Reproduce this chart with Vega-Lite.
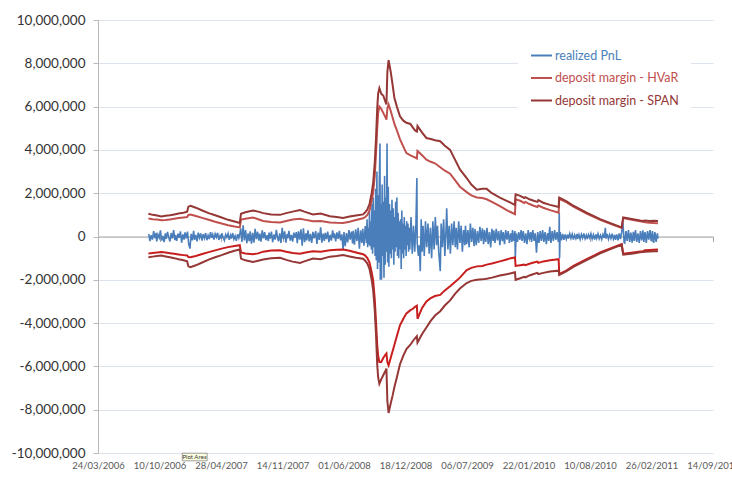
{
"$schema": "https://vega.github.io/schema/vega-lite/v6.json",
"width": 615, "height": 433,
"autosize": {"type": "none"},
"padding": {"left": 98, "top": 20, "right": 19, "bottom": 30},
"background": "white",
"config": {"view": {"stroke": null}, "font": "Lato"},
"datasets": {
"pnl": [
{"d":"2006-09-05","v":120000},{"d":"2006-09-09","v":-210000},{"d":"2006-09-13","v":60000},{"d":"2006-09-17","v":-140000},{"d":"2006-09-21","v":250000},{"d":"2006-09-25","v":-80000},{"d":"2006-09-29","v":170000},
{"d":"2006-10-01","v":-230000},{"d":"2006-10-05","v":90000},{"d":"2006-10-09","v":-60000},{"d":"2006-10-13","v":280000},{"d":"2006-10-17","v":-190000},{"d":"2006-10-21","v":30000},{"d":"2006-10-25","v":-260000},{"d":"2006-10-29","v":140000},
{"d":"2006-11-01","v":-110000},{"d":"2006-11-05","v":210000},{"d":"2006-11-09","v":-40000},{"d":"2006-11-13","v":-230000},{"d":"2006-11-17","v":160000},{"d":"2006-11-21","v":-90000},{"d":"2006-11-25","v":300000},{"d":"2006-11-29","v":-170000},
{"d":"2006-12-01","v":70000},{"d":"2006-12-05","v":-200000},{"d":"2006-12-09","v":130000},{"d":"2006-12-13","v":-60000},{"d":"2006-12-17","v":240000},{"d":"2006-12-21","v":-280000},{"d":"2006-12-25","v":100000},{"d":"2006-12-29","v":-140000},
{"d":"2007-01-01","v":190000},{"d":"2007-01-05","v":-90000},{"d":"2007-01-09","v":230000},{"d":"2007-01-13","v":-350000},{"d":"2007-01-17","v":-560000},{"d":"2007-01-21","v":120000},{"d":"2007-01-25","v":-180000},{"d":"2007-01-29","v":260000},
{"d":"2007-02-01","v":-150000},{"d":"2007-02-05","v":70000},{"d":"2007-02-09","v":-220000},{"d":"2007-02-13","v":180000},{"d":"2007-02-17","v":-60000},{"d":"2007-02-21","v":140000},{"d":"2007-02-25","v":-190000},
{"d":"2007-03-01","v":110000},{"d":"2007-03-05","v":-80000},{"d":"2007-03-09","v":160000},{"d":"2007-03-13","v":-170000},{"d":"2007-03-17","v":50000},{"d":"2007-03-21","v":-120000},{"d":"2007-03-25","v":200000},{"d":"2007-03-29","v":-60000},
{"d":"2007-04-01","v":90000},{"d":"2007-04-05","v":-140000},{"d":"2007-04-09","v":120000},{"d":"2007-04-13","v":-30000},{"d":"2007-04-17","v":170000},{"d":"2007-04-21","v":-160000},{"d":"2007-04-25","v":40000},{"d":"2007-04-29","v":-100000},
{"d":"2007-05-01","v":150000},{"d":"2007-05-05","v":-60000},{"d":"2007-05-09","v":-180000},{"d":"2007-05-13","v":90000},{"d":"2007-05-17","v":-40000},{"d":"2007-05-21","v":130000},{"d":"2007-05-25","v":-150000},{"d":"2007-05-29","v":60000},
{"d":"2007-06-01","v":-90000},{"d":"2007-06-05","v":160000},{"d":"2007-06-09","v":-120000},{"d":"2007-06-13","v":30000},{"d":"2007-06-17","v":-200000},{"d":"2007-06-21","v":110000},{"d":"2007-06-25","v":-70000},{"d":"2007-06-29","v":180000},
{"d":"2007-07-01","v":380000},{"d":"2007-07-05","v":-250000},{"d":"2007-07-09","v":520000},{"d":"2007-07-13","v":-180000},{"d":"2007-07-17","v":300000},{"d":"2007-07-21","v":-310000},{"d":"2007-07-25","v":150000},{"d":"2007-07-29","v":-220000},
{"d":"2007-08-01","v":240000},{"d":"2007-08-05","v":-330000},{"d":"2007-08-09","v":170000},{"d":"2007-08-13","v":-280000},{"d":"2007-08-17","v":350000},{"d":"2007-08-21","v":-120000},{"d":"2007-08-25","v":220000},{"d":"2007-08-29","v":-190000},
{"d":"2007-09-01","v":130000},{"d":"2007-09-05","v":-240000},{"d":"2007-09-09","v":280000},{"d":"2007-09-13","v":-90000},{"d":"2007-09-17","v":200000},{"d":"2007-09-21","v":-170000},{"d":"2007-09-25","v":60000},{"d":"2007-09-29","v":-210000},
{"d":"2007-10-01","v":180000},{"d":"2007-10-05","v":-100000},{"d":"2007-10-09","v":230000},{"d":"2007-10-13","v":-260000},{"d":"2007-10-17","v":90000},{"d":"2007-10-21","v":-140000},{"d":"2007-10-25","v":310000},{"d":"2007-10-29","v":-60000},
{"d":"2007-11-01","v":-220000},{"d":"2007-11-05","v":150000},{"d":"2007-11-09","v":-300000},{"d":"2007-11-13","v":400000},{"d":"2007-11-17","v":-120000},{"d":"2007-11-21","v":240000},{"d":"2007-11-25","v":-280000},{"d":"2007-11-29","v":110000},
{"d":"2007-12-01","v":-90000},{"d":"2007-12-05","v":260000},{"d":"2007-12-09","v":-190000},{"d":"2007-12-13","v":70000},{"d":"2007-12-17","v":-240000},{"d":"2007-12-21","v":180000},{"d":"2007-12-25","v":-50000},{"d":"2007-12-29","v":200000},
{"d":"2008-01-01","v":-310000},{"d":"2008-01-05","v":240000},{"d":"2008-01-09","v":-150000},{"d":"2008-01-13","v":330000},{"d":"2008-01-17","v":-420000},{"d":"2008-01-21","v":380000},{"d":"2008-01-25","v":-260000},{"d":"2008-01-29","v":150000},
{"d":"2008-02-01","v":-180000},{"d":"2008-02-05","v":290000},{"d":"2008-02-09","v":-230000},{"d":"2008-02-13","v":120000},{"d":"2008-02-17","v":-300000},{"d":"2008-02-21","v":210000},{"d":"2008-02-25","v":-90000},
{"d":"2008-03-01","v":250000},{"d":"2008-03-05","v":-340000},{"d":"2008-03-09","v":180000},{"d":"2008-03-13","v":-160000},{"d":"2008-03-17","v":420000},{"d":"2008-03-21","v":-280000},{"d":"2008-03-25","v":130000},{"d":"2008-03-29","v":-200000},
{"d":"2008-04-01","v":170000},{"d":"2008-04-05","v":-120000},{"d":"2008-04-09","v":230000},{"d":"2008-04-13","v":-260000},{"d":"2008-04-17","v":80000},{"d":"2008-04-21","v":-190000},{"d":"2008-04-25","v":280000},{"d":"2008-04-29","v":-70000},
{"d":"2008-05-01","v":140000},{"d":"2008-05-05","v":-230000},{"d":"2008-05-09","v":190000},{"d":"2008-05-13","v":-110000},{"d":"2008-05-17","v":260000},{"d":"2008-05-21","v":-180000},{"d":"2008-05-25","v":100000},{"d":"2008-05-29","v":-600000},
{"d":"2008-06-01","v":210000},{"d":"2008-06-05","v":-450000},{"d":"2008-06-09","v":160000},{"d":"2008-06-13","v":-270000},{"d":"2008-06-17","v":300000},{"d":"2008-06-21","v":-140000},{"d":"2008-06-25","v":230000},{"d":"2008-06-29","v":-320000},
{"d":"2008-07-01","v":260000},{"d":"2008-07-05","v":-380000},{"d":"2008-07-09","v":330000},{"d":"2008-07-13","v":-210000},{"d":"2008-07-17","v":400000},{"d":"2008-07-21","v":-560000},{"d":"2008-07-25","v":280000},{"d":"2008-07-29","v":-300000},
{"d":"2008-08-01","v":350000},{"d":"2008-08-05","v":-420000},{"d":"2008-08-09","v":480000},{"d":"2008-08-13","v":-300000},{"d":"2008-08-15","v":800000},{"d":"2008-08-17","v":-500000},{"d":"2008-08-19","v":400000},{"d":"2008-08-21","v":-380000},{"d":"2008-08-23","v":1200000},{"d":"2008-08-25","v":-450000},{"d":"2008-08-27","v":700000},{"d":"2008-08-29","v":-600000},{"d":"2008-08-31","v":1500000},
{"d":"2008-09-02","v":-800000},{"d":"2008-09-04","v":1800000},{"d":"2008-09-06","v":-500000},{"d":"2008-09-08","v":1200000},{"d":"2008-09-10","v":-900000},{"d":"2008-09-12","v":2200000},{"d":"2008-09-14","v":-1100000},{"d":"2008-09-16","v":3000000},{"d":"2008-09-18","v":-1500000},{"d":"2008-09-20","v":1900000},{"d":"2008-09-22","v":-1200000},{"d":"2008-09-24","v":2600000},{"d":"2008-09-26","v":4300000},{"d":"2008-09-27","v":-2000000},{"d":"2008-09-29","v":1500000},{"d":"2008-09-30","v":-1800000},
{"d":"2008-10-01","v":-2000000},{"d":"2008-10-03","v":2400000},{"d":"2008-10-05","v":-900000},{"d":"2008-10-07","v":1600000},{"d":"2008-10-09","v":-1900000},{"d":"2008-10-11","v":2800000},{"d":"2008-10-13","v":-1300000},{"d":"2008-10-15","v":1800000},{"d":"2008-10-17","v":-700000},{"d":"2008-10-19","v":4300000},{"d":"2008-10-21","v":-1200000},{"d":"2008-10-23","v":2300000},{"d":"2008-10-25","v":-1400000},{"d":"2008-10-27","v":1500000},{"d":"2008-10-29","v":-800000},{"d":"2008-10-31","v":1200000},
{"d":"2008-11-02","v":-1000000},{"d":"2008-11-04","v":1700000},{"d":"2008-11-06","v":-600000},{"d":"2008-11-08","v":1300000},{"d":"2008-11-10","v":-1300000},{"d":"2008-11-12","v":900000},{"d":"2008-11-14","v":-700000},{"d":"2008-11-16","v":1600000},{"d":"2008-11-18","v":-500000},{"d":"2008-11-20","v":1800000},{"d":"2008-11-22","v":-900000},{"d":"2008-11-24","v":1100000},{"d":"2008-11-26","v":-1000000},{"d":"2008-11-28","v":700000},{"d":"2008-11-30","v":-600000},
{"d":"2008-12-02","v":800000},{"d":"2008-12-04","v":-1500000},{"d":"2008-12-06","v":1200000},{"d":"2008-12-08","v":-800000},{"d":"2008-12-10","v":600000},{"d":"2008-12-12","v":-1000000},{"d":"2008-12-14","v":900000},{"d":"2008-12-16","v":-600000},{"d":"2008-12-18","v":500000},{"d":"2008-12-20","v":-900000},{"d":"2008-12-22","v":700000},{"d":"2008-12-24","v":-400000},{"d":"2008-12-26","v":600000},{"d":"2008-12-28","v":-700000},{"d":"2008-12-30","v":400000},
{"d":"2009-01-01","v":-600000},{"d":"2009-01-05","v":900000},{"d":"2009-01-09","v":-800000},{"d":"2009-01-13","v":500000},{"d":"2009-01-17","v":-700000},{"d":"2009-01-21","v":600000},{"d":"2009-01-24","v":2700000},{"d":"2009-01-25","v":-300000},{"d":"2009-01-29","v":-900000},
{"d":"2009-02-01","v":-400000},{"d":"2009-02-04","v":-1600000},{"d":"2009-02-07","v":800000},{"d":"2009-02-10","v":-700000},{"d":"2009-02-13","v":500000},{"d":"2009-02-17","v":-900000},{"d":"2009-02-21","v":700000},{"d":"2009-02-25","v":-500000},
{"d":"2009-03-01","v":600000},{"d":"2009-03-05","v":-800000},{"d":"2009-03-09","v":400000},{"d":"2009-03-13","v":-1000000},{"d":"2009-03-17","v":700000},{"d":"2009-03-21","v":-600000},{"d":"2009-03-25","v":900000},{"d":"2009-03-29","v":-400000},
{"d":"2009-04-01","v":500000},{"d":"2009-04-05","v":-700000},{"d":"2009-04-10","v":-1600000},{"d":"2009-04-13","v":600000},{"d":"2009-04-17","v":-500000},{"d":"2009-04-21","v":800000},{"d":"2009-04-25","v":-900000},{"d":"2009-04-29","v":400000},
{"d":"2009-05-01","v":1300000},{"d":"2009-05-05","v":-600000},{"d":"2009-05-09","v":500000},{"d":"2009-05-13","v":-800000},{"d":"2009-05-17","v":600000},{"d":"2009-05-21","v":-400000},{"d":"2009-05-25","v":700000},{"d":"2009-05-29","v":-500000},
{"d":"2009-06-01","v":400000},{"d":"2009-06-05","v":-600000},{"d":"2009-06-09","v":700000},{"d":"2009-06-13","v":-300000},{"d":"2009-06-17","v":500000},{"d":"2009-06-21","v":-700000},{"d":"2009-06-25","v":300000},{"d":"2009-06-29","v":-400000},
{"d":"2009-07-01","v":500000},{"d":"2009-07-05","v":-350000},{"d":"2009-07-09","v":300000},{"d":"2009-07-13","v":-500000},{"d":"2009-07-17","v":600000},{"d":"2009-07-21","v":-250000},{"d":"2009-07-25","v":400000},{"d":"2009-07-29","v":-450000},
{"d":"2009-08-01","v":350000},{"d":"2009-08-05","v":-400000},{"d":"2009-08-09","v":250000},{"d":"2009-08-13","v":-300000},{"d":"2009-08-17","v":450000},{"d":"2009-08-21","v":-200000},{"d":"2009-08-25","v":380000},{"d":"2009-08-29","v":-350000},
{"d":"2009-09-01","v":300000},{"d":"2009-09-05","v":-250000},{"d":"2009-09-09","v":400000},{"d":"2009-09-13","v":-350000},{"d":"2009-09-17","v":200000},{"d":"2009-09-21","v":-500000},{"d":"2009-09-25","v":350000},{"d":"2009-09-29","v":-200000},
{"d":"2009-10-01","v":280000},{"d":"2009-10-05","v":-300000},{"d":"2009-10-09","v":350000},{"d":"2009-10-13","v":-180000},{"d":"2009-10-17","v":250000},{"d":"2009-10-21","v":-400000},{"d":"2009-10-25","v":300000},{"d":"2009-10-29","v":-220000},
{"d":"2009-11-01","v":200000},{"d":"2009-11-05","v":-350000},{"d":"2009-11-09","v":300000},{"d":"2009-11-13","v":-150000},{"d":"2009-11-17","v":250000},{"d":"2009-11-21","v":-300000},{"d":"2009-11-25","v":150000},{"d":"2009-11-29","v":-250000},
{"d":"2009-12-01","v":300000},{"d":"2009-12-05","v":-200000},{"d":"2009-12-09","v":250000},{"d":"2009-12-10","v":-1000000},{"d":"2009-12-13","v":150000},{"d":"2009-12-17","v":-250000},{"d":"2009-12-21","v":200000},{"d":"2009-12-25","v":-150000},{"d":"2009-12-29","v":300000},
{"d":"2010-01-01","v":-200000},{"d":"2010-01-05","v":250000},{"d":"2010-01-09","v":-300000},{"d":"2010-01-13","v":150000},{"d":"2010-01-17","v":-350000},{"d":"2010-01-21","v":300000},{"d":"2010-01-25","v":-150000},{"d":"2010-01-29","v":200000},
{"d":"2010-02-01","v":-250000},{"d":"2010-02-05","v":300000},{"d":"2010-02-09","v":-200000},{"d":"2010-02-13","v":150000},{"d":"2010-02-17","v":-750000},{"d":"2010-02-21","v":200000},{"d":"2010-02-25","v":-300000},
{"d":"2010-03-01","v":250000},{"d":"2010-03-05","v":-200000},{"d":"2010-03-09","v":300000},{"d":"2010-03-13","v":-250000},{"d":"2010-03-17","v":200000},{"d":"2010-03-21","v":-350000},{"d":"2010-03-25","v":150000},{"d":"2010-03-29","v":-200000},
{"d":"2010-04-01","v":450000},{"d":"2010-04-05","v":-300000},{"d":"2010-04-09","v":250000},{"d":"2010-04-13","v":-200000},{"d":"2010-04-17","v":300000},{"d":"2010-04-21","v":-150000},{"d":"2010-04-25","v":200000},{"d":"2010-04-29","v":-250000},
{"d":"2010-05-01","v":-150000},{"d":"2010-05-02","v":1100000},{"d":"2010-05-03","v":-1000000},{"d":"2010-05-05","v":200000},{"d":"2010-05-09","v":-180000},{"d":"2010-05-13","v":120000},{"d":"2010-05-17","v":-150000},{"d":"2010-05-21","v":100000},{"d":"2010-05-25","v":-120000},{"d":"2010-05-29","v":90000},
{"d":"2010-06-01","v":-100000},{"d":"2010-06-05","v":130000},{"d":"2010-06-09","v":-80000},{"d":"2010-06-13","v":110000},{"d":"2010-06-17","v":-140000},{"d":"2010-06-21","v":70000},{"d":"2010-06-25","v":-90000},{"d":"2010-06-29","v":120000},
{"d":"2010-07-01","v":-110000},{"d":"2010-07-05","v":80000},{"d":"2010-07-09","v":-130000},{"d":"2010-07-13","v":100000},{"d":"2010-07-17","v":-70000},{"d":"2010-07-21","v":140000},{"d":"2010-07-25","v":-100000},{"d":"2010-07-29","v":60000},
{"d":"2010-08-01","v":-120000},{"d":"2010-08-05","v":90000},{"d":"2010-08-09","v":-60000},{"d":"2010-08-13","v":130000},{"d":"2010-08-17","v":-110000},{"d":"2010-08-21","v":80000},{"d":"2010-08-25","v":-140000},{"d":"2010-08-29","v":100000},
{"d":"2010-09-01","v":-80000},{"d":"2010-09-05","v":120000},{"d":"2010-09-09","v":-100000},{"d":"2010-09-13","v":60000},{"d":"2010-09-17","v":-130000},{"d":"2010-09-21","v":90000},{"d":"2010-09-25","v":-70000},{"d":"2010-09-29","v":400000},
{"d":"2010-10-01","v":-100000},{"d":"2010-10-05","v":120000},{"d":"2010-10-09","v":-120000},{"d":"2010-10-13","v":80000},{"d":"2010-10-17","v":-90000},{"d":"2010-10-21","v":130000},{"d":"2010-10-25","v":-110000},{"d":"2010-10-29","v":70000},
{"d":"2010-11-01","v":-150000},{"d":"2010-11-05","v":100000},{"d":"2010-11-09","v":-180000},{"d":"2010-11-13","v":140000},{"d":"2010-11-17","v":-120000},{"d":"2010-11-21","v":200000},{"d":"2010-11-25","v":650000},{"d":"2010-11-29","v":-280000},
{"d":"2010-12-01","v":-300000},{"d":"2010-12-05","v":250000},{"d":"2010-12-09","v":-200000},{"d":"2010-12-13","v":300000},{"d":"2010-12-17","v":-250000},{"d":"2010-12-21","v":180000},{"d":"2010-12-25","v":-280000},{"d":"2010-12-29","v":220000},
{"d":"2011-01-01","v":-200000},{"d":"2011-01-05","v":300000},{"d":"2011-01-09","v":-250000},{"d":"2011-01-13","v":150000},{"d":"2011-01-17","v":-300000},{"d":"2011-01-21","v":250000},{"d":"2011-01-25","v":-180000},{"d":"2011-01-29","v":280000},
{"d":"2011-02-01","v":-250000},{"d":"2011-02-05","v":200000},{"d":"2011-02-09","v":-300000},{"d":"2011-02-13","v":250000},{"d":"2011-02-17","v":-150000},{"d":"2011-02-21","v":300000},{"d":"2011-02-25","v":-220000},
{"d":"2011-03-01","v":250000},{"d":"2011-03-05","v":-300000},{"d":"2011-03-09","v":200000},{"d":"2011-03-13","v":-250000},{"d":"2011-03-17","v":150000},{"d":"2011-03-19","v":-100000}
],
"margin": [
{"d":"2006-09-04","h":830000,"hn":-780000,"s":1050000,"sn":-960000},
{"d":"2006-09-18","h":800000,"hn":-760000,"s":1000000,"sn":-930000},
{"d":"2006-10-02","h":780000,"hn":-740000,"s":970000,"sn":-900000},
{"d":"2006-10-16","h":750000,"hn":-720000,"s":930000,"sn":-880000},
{"d":"2006-10-30","h":760000,"hn":-740000,"s":960000,"sn":-920000},
{"d":"2006-11-13","h":790000,"hn":-770000,"s":980000,"sn":-960000},
{"d":"2006-11-27","h":820000,"hn":-800000,"s":1020000,"sn":-1000000},
{"d":"2006-12-11","h":850000,"hn":-830000,"s":1060000,"sn":-1050000},
{"d":"2006-12-27","h":880000,"hn":-860000,"s":1100000,"sn":-1100000},
{"d":"2007-01-08","h":900000,"hn":-880000,"s":1150000,"sn":-1150000},
{"d":"2007-01-12","h":1000000,"hn":-950000,"s":1380000,"sn":-1380000},
{"d":"2007-01-19","h":1020000,"hn":-960000,"s":1420000,"sn":-1420000},
{"d":"2007-02-05","h":950000,"hn":-900000,"s":1330000,"sn":-1330000},
{"d":"2007-02-26","h":860000,"hn":-810000,"s":1200000,"sn":-1200000},
{"d":"2007-03-19","h":770000,"hn":-720000,"s":1080000,"sn":-1070000},
{"d":"2007-04-09","h":680000,"hn":-640000,"s":980000,"sn":-960000},
{"d":"2007-04-30","h":600000,"hn":-560000,"s":880000,"sn":-860000},
{"d":"2007-05-21","h":520000,"hn":-490000,"s":770000,"sn":-750000},
{"d":"2007-06-11","h":460000,"hn":-440000,"s":690000,"sn":-660000},
{"d":"2007-06-28","h":420000,"hn":-400000,"s":620000,"sn":-600000},
{"d":"2007-07-02","h":780000,"hn":-740000,"s":1050000,"sn":-1020000},
{"d":"2007-07-16","h":820000,"hn":-780000,"s":1120000,"sn":-1100000},
{"d":"2007-08-10","h":880000,"hn":-820000,"s":1200000,"sn":-1180000},
{"d":"2007-08-27","h":800000,"hn":-780000,"s":1150000,"sn":-1120000},
{"d":"2007-09-12","h":720000,"hn":-700000,"s":1080000,"sn":-1060000},
{"d":"2007-10-08","h":670000,"hn":-650000,"s":1020000,"sn":-1000000},
{"d":"2007-11-06","h":650000,"hn":-640000,"s":1000000,"sn":-980000},
{"d":"2007-11-26","h":720000,"hn":-700000,"s":1080000,"sn":-1080000},
{"d":"2007-12-17","h":780000,"hn":-760000,"s":1150000,"sn":-1160000},
{"d":"2008-01-10","h":820000,"hn":-800000,"s":1220000,"sn":-1220000},
{"d":"2008-01-24","h":780000,"hn":-750000,"s":1150000,"sn":-1150000},
{"d":"2008-02-21","h":700000,"hn":-680000,"s":1020000,"sn":-1020000},
{"d":"2008-03-17","h":720000,"hn":-700000,"s":1060000,"sn":-1050000},
{"d":"2008-04-16","h":650000,"hn":-630000,"s":940000,"sn":-930000},
{"d":"2008-05-08","h":630000,"hn":-610000,"s":900000,"sn":-900000},
{"d":"2008-05-29","h":620000,"hn":-600000,"s":860000,"sn":-860000},
{"d":"2008-06-19","h":680000,"hn":-660000,"s":920000,"sn":-920000},
{"d":"2008-07-10","h":760000,"hn":-740000,"s":970000,"sn":-980000},
{"d":"2008-08-02","h":840000,"hn":-820000,"s":1020000,"sn":-1030000},
{"d":"2008-08-09","h":900000,"hn":-880000,"s":1120000,"sn":-1120000},
{"d":"2008-08-16","h":1000000,"hn":-1000000,"s":1250000,"sn":-1250000},
{"d":"2008-08-23","h":1200000,"hn":-1200000,"s":1500000,"sn":-1500000},
{"d":"2008-08-30","h":1650000,"hn":-1650000,"s":2000000,"sn":-2000000},
{"d":"2008-09-04","h":2050000,"hn":-2050000,"s":2500000,"sn":-2500000},
{"d":"2008-09-09","h":2800000,"hn":-2900000,"s":3400000,"sn":-3400000},
{"d":"2008-09-13","h":3800000,"hn":-3900000,"s":4500000,"sn":-4500000},
{"d":"2008-09-17","h":5000000,"hn":-5000000,"s":5900000,"sn":-5900000},
{"d":"2008-09-20","h":5700000,"hn":-5500000,"s":6600000,"sn":-6500000},
{"d":"2008-09-24","h":6000000,"hn":-5800000,"s":6850000,"sn":-6800000},
{"d":"2008-09-30","h":5900000,"hn":-5800000,"s":6600000,"sn":-6600000},
{"d":"2008-10-07","h":5700000,"hn":-5600000,"s":6500000,"sn":-6400000},
{"d":"2008-10-14","h":5500000,"hn":-5450000,"s":6200000,"sn":-6200000},
{"d":"2008-10-17","h":5400000,"hn":-5400000,"s":6100000,"sn":-6100000},
{"d":"2008-10-20","h":5900000,"hn":-5800000,"s":7600000,"sn":-7600000},
{"d":"2008-10-24","h":6100000,"hn":-5950000,"s":8150000,"sn":-8150000},
{"d":"2008-10-31","h":5800000,"hn":-5600000,"s":7600000,"sn":-7700000},
{"d":"2008-11-06","h":5500000,"hn":-5300000,"s":7000000,"sn":-7350000},
{"d":"2008-11-12","h":5200000,"hn":-5000000,"s":6400000,"sn":-6950000},
{"d":"2008-11-20","h":4900000,"hn":-4600000,"s":6000000,"sn":-6500000},
{"d":"2008-11-30","h":4500000,"hn":-4100000,"s":5550000,"sn":-5900000},
{"d":"2008-12-11","h":4150000,"hn":-3800000,"s":5350000,"sn":-5500000},
{"d":"2008-12-21","h":3850000,"hn":-3550000,"s":5250000,"sn":-5200000},
{"d":"2009-01-03","h":3750000,"hn":-3400000,"s":5200000,"sn":-5000000},
{"d":"2009-01-10","h":3700000,"hn":-3350000,"s":5050000,"sn":-4850000},
{"d":"2009-01-18","h":3650000,"hn":-3250000,"s":4900000,"sn":-4700000},
{"d":"2009-01-24","h":3600000,"hn":-3200000,"s":4850000,"sn":-4600000},
{"d":"2009-01-26","h":3950000,"hn":-3800000,"s":5100000,"sn":-4900000},
{"d":"2009-02-10","h":3750000,"hn":-3300000,"s":4800000,"sn":-4500000},
{"d":"2009-02-24","h":3550000,"hn":-3000000,"s":4550000,"sn":-4200000},
{"d":"2009-03-10","h":3450000,"hn":-2850000,"s":4500000,"sn":-3900000},
{"d":"2009-03-24","h":3380000,"hn":-2750000,"s":4450000,"sn":-3650000},
{"d":"2009-04-10","h":3200000,"hn":-2700000,"s":4400000,"sn":-3450000},
{"d":"2009-04-24","h":3050000,"hn":-2500000,"s":4200000,"sn":-3200000},
{"d":"2009-05-12","h":2900000,"hn":-2300000,"s":4000000,"sn":-2950000},
{"d":"2009-05-28","h":2600000,"hn":-2100000,"s":3550000,"sn":-2650000},
{"d":"2009-06-13","h":2300000,"hn":-1900000,"s":3100000,"sn":-2400000},
{"d":"2009-07-05","h":2050000,"hn":-1550000,"s":2700000,"sn":-2150000},
{"d":"2009-07-20","h":1900000,"hn":-1450000,"s":2400000,"sn":-2050000},
{"d":"2009-08-07","h":1800000,"hn":-1380000,"s":2160000,"sn":-2000000},
{"d":"2009-08-25","h":1780000,"hn":-1360000,"s":2200000,"sn":-1980000},
{"d":"2009-09-08","h":1720000,"hn":-1300000,"s":2200000,"sn":-1950000},
{"d":"2009-09-25","h":1600000,"hn":-1250000,"s":2000000,"sn":-1900000},
{"d":"2009-10-21","h":1400000,"hn":-1150000,"s":1800000,"sn":-1800000},
{"d":"2009-11-12","h":1220000,"hn":-1060000,"s":1650000,"sn":-1740000},
{"d":"2009-11-26","h":1120000,"hn":-1000000,"s":1550000,"sn":-1700000},
{"d":"2009-12-09","h":1030000,"hn":-970000,"s":1460000,"sn":-1650000},
{"d":"2009-12-11","h":1720000,"hn":-1360000,"s":1950000,"sn":-2000000},
{"d":"2009-12-26","h":1650000,"hn":-1330000,"s":1880000,"sn":-1930000},
{"d":"2010-01-08","h":1550000,"hn":-1300000,"s":1780000,"sn":-1860000},
{"d":"2010-01-12","h":1600000,"hn":-1320000,"s":1820000,"sn":-1890000},
{"d":"2010-01-25","h":1500000,"hn":-1260000,"s":1720000,"sn":-1800000},
{"d":"2010-02-08","h":1420000,"hn":-1200000,"s":1650000,"sn":-1730000},
{"d":"2010-02-20","h":1360000,"hn":-1160000,"s":1600000,"sn":-1680000},
{"d":"2010-02-23","h":1430000,"hn":-1220000,"s":1680000,"sn":-1740000},
{"d":"2010-03-11","h":1330000,"hn":-1150000,"s":1560000,"sn":-1680000},
{"d":"2010-04-02","h":1220000,"hn":-1100000,"s":1460000,"sn":-1620000},
{"d":"2010-04-30","h":1100000,"hn":-1050000,"s":1360000,"sn":-1580000},
{"d":"2010-05-02","h":1740000,"hn":-1740000,"s":1800000,"sn":-1780000},
{"d":"2010-05-26","h":1580000,"hn":-1560000,"s":1620000,"sn":-1600000},
{"d":"2010-06-17","h":1380000,"hn":-1360000,"s":1420000,"sn":-1400000},
{"d":"2010-07-30","h":1060000,"hn":-1050000,"s":1100000,"sn":-1090000},
{"d":"2010-09-12","h":770000,"hn":-740000,"s":800000,"sn":-780000},
{"d":"2010-10-24","h":540000,"hn":-500000,"s":570000,"sn":-540000},
{"d":"2010-11-21","h":400000,"hn":-350000,"s":420000,"sn":-380000},
{"d":"2010-11-26","h":850000,"hn":-800000,"s":880000,"sn":-840000},
{"d":"2010-12-28","h":760000,"hn":-740000,"s":800000,"sn":-780000},
{"d":"2011-01-20","h":700000,"hn":-690000,"s":740000,"sn":-730000},
{"d":"2011-01-29","h":680000,"hn":-680000,"s":720000,"sn":-720000},
{"d":"2011-02-05","h":660000,"hn":-640000,"s":740000,"sn":-700000},
{"d":"2011-02-20","h":640000,"hn":-620000,"s":720000,"sn":-690000},
{"d":"2011-03-05","h":620000,"hn":-610000,"s":730000,"sn":-680000},
{"d":"2011-03-19","h":610000,"hn":-600000,"s":720000,"sn":-680000}
]
},
"layer": [
{"data": {"name": "pnl"},
 "mark": {"type": "line", "strokeWidth": 1.6},
 "encoding": {
  "x": {"field": "d", "type": "temporal",
   "scale": {"type": "utc", "domain": [{"year":2006,"month":3,"date":24,"utc":true},{"year":2011,"month":9,"date":14,"utc":true}]},
   "axis": {"orient": "bottom", "title": null, "labels": false, "grid": false, "domain": true, "domainColor": "#a6a6a6", "ticks": true, "tickSize": 5, "tickColor": "#a6a6a6", "offset": -216.5,
    "values": [{"year":2006,"month":3,"date":24,"utc":true},{"year":2006,"month":10,"date":10,"utc":true},{"year":2007,"month":4,"date":28,"utc":true},{"year":2007,"month":11,"date":14,"utc":true},{"year":2008,"month":6,"date":1,"utc":true},{"year":2008,"month":12,"date":18,"utc":true},{"year":2009,"month":7,"date":6,"utc":true},{"year":2010,"month":1,"date":22,"utc":true},{"year":2010,"month":8,"date":10,"utc":true},{"year":2011,"month":2,"date":26,"utc":true},{"year":2011,"month":9,"date":14,"utc":true}]}},
  "y": {"field": "v", "type": "quantitative",
   "scale": {"domain": [-10000000, 10000000], "nice": false, "zero": false},
   "axis": {"title": null, "values": [-10000000,-8000000,-6000000,-4000000,-2000000,0,2000000,4000000,6000000,8000000,10000000],
    "labelExpr": "replace(format(datum.value, ',d'), '\u2212', '-')",
    "labelFont": "Lato", "labelFontSize": 13.5, "labelColor": "#333333", "labelPadding": 8,
    "tickSize": 5, "tickColor": "#b8b8b8", "domainColor": "#b8b8b8", "grid": true, "gridColor": "#dde3ec", "gridWidth": 1}},
  "color": {"datum": "realized PnL",
   "scale": {"domain": ["realized PnL","h","s","hn","sn"], "range": ["#4a7ebb","#c0504d","#953735","#c81e1e","#953735"]},
   "legend": {"orient": "none", "legendX": 420, "legendY": 12, "values": ["realized PnL","h","s"], "title": null,
    "symbolType": "stroke", "symbolSize": 441, "symbolStrokeWidth": 2, "labelFont": "Lato", "labelFontSize": 12.5,
    "labelExpr": "datum.value == 'h' ? 'deposit margin - HVaR' : datum.value == 's' ? 'deposit margin - SPAN' : datum.value",
    "fillColor": "white", "padding": 12, "rowPadding": 4.5, "labelOffset": 2,
    "encode": {"labels": {"update": {"fill": {"signal": "scale('color', datum.value)"}}}}}}
 }},
{"data": {"name": "margin"},
 "transform": [{"fold": ["h","s","hn","sn"], "as": ["series","v"]}],
 "mark": {"type": "line", "strokeWidth": 2},
 "encoding": {
  "x": {"field": "d", "type": "temporal",
   "scale": {"type": "utc", "domain": [{"year":2006,"month":3,"date":24,"utc":true},{"year":2011,"month":9,"date":14,"utc":true}]},
   "axis": {"orient": "bottom", "title": null, "format": "%d/%m/%Y", "domain": false, "ticks": false, "grid": false, "labelPadding": 7,
    "labelFont": "Lato", "labelFontSize": 9.5, "labelColor": "#595959", "labelOverlap": false, "labelFlush": false, "labelBound": false,
    "values": [{"year":2006,"month":3,"date":24,"utc":true},{"year":2006,"month":10,"date":10,"utc":true},{"year":2007,"month":4,"date":28,"utc":true},{"year":2007,"month":11,"date":14,"utc":true},{"year":2008,"month":6,"date":1,"utc":true},{"year":2008,"month":12,"date":18,"utc":true},{"year":2009,"month":7,"date":6,"utc":true},{"year":2010,"month":1,"date":22,"utc":true},{"year":2010,"month":8,"date":10,"utc":true},{"year":2011,"month":2,"date":26,"utc":true},{"year":2011,"month":9,"date":14,"utc":true}]}},
  "y": {"field": "v", "type": "quantitative",
   "scale": {"domain": [-10000000, 10000000], "nice": false, "zero": false},
   "axis": {"title": null, "values": [-10000000,-8000000,-6000000,-4000000,-2000000,0,2000000,4000000,6000000,8000000,10000000],
    "labelExpr": "replace(format(datum.value, ',d'), '\u2212', '-')",
    "labelFont": "Lato", "labelFontSize": 13.5, "labelColor": "#333333", "labelPadding": 8,
    "tickSize": 5, "tickColor": "#b8b8b8", "domainColor": "#b8b8b8", "grid": true, "gridColor": "#dde3ec", "gridWidth": 1}},
  "color": {"field": "series", "type": "nominal",
   "scale": {"domain": ["realized PnL","h","s","hn","sn"], "range": ["#4a7ebb","#c0504d","#953735","#c81e1e","#953735"]},
   "legend": {"orient": "none", "legendX": 420, "legendY": 12, "values": ["realized PnL","h","s"], "title": null,
    "symbolType": "stroke", "symbolSize": 441, "symbolStrokeWidth": 2, "labelFont": "Lato", "labelFontSize": 12.5,
    "labelExpr": "datum.value == 'h' ? 'deposit margin - HVaR' : datum.value == 's' ? 'deposit margin - SPAN' : datum.value",
    "fillColor": "white", "padding": 12, "rowPadding": 4.5, "labelOffset": 2,
    "encode": {"labels": {"update": {"fill": {"signal": "scale('color', datum.value)"}}}}}}
 }},
{"data": {"values": [{"note": "Plot Area"}]},
 "mark": {"type": "rect", "fill": "#ffffe1", "stroke": "#767676", "strokeWidth": 0.7},
 "encoding": {
  "x": {"datum": 1166832000000, "type": "temporal", "axis": null},
  "x2": {"datum": 1173830400000},
  "y": {"datum": -10010000, "type": "quantitative"},
  "y2": {"datum": -10360000}
 }},
{"data": {"values": [{"note": "Plot Area"}]},
 "mark": {"type": "text", "fontSize": 6, "color": "#333333", "font": "Lato"},
 "encoding": {
  "x": {"datum": 1170288000000, "type": "temporal", "axis": null},
  "y": {"datum": -10185000, "type": "quantitative"},
  "text": {"field": "note", "type": "nominal"}
 }}
],
"resolve": {"axis": {"x": "independent"}}
}
